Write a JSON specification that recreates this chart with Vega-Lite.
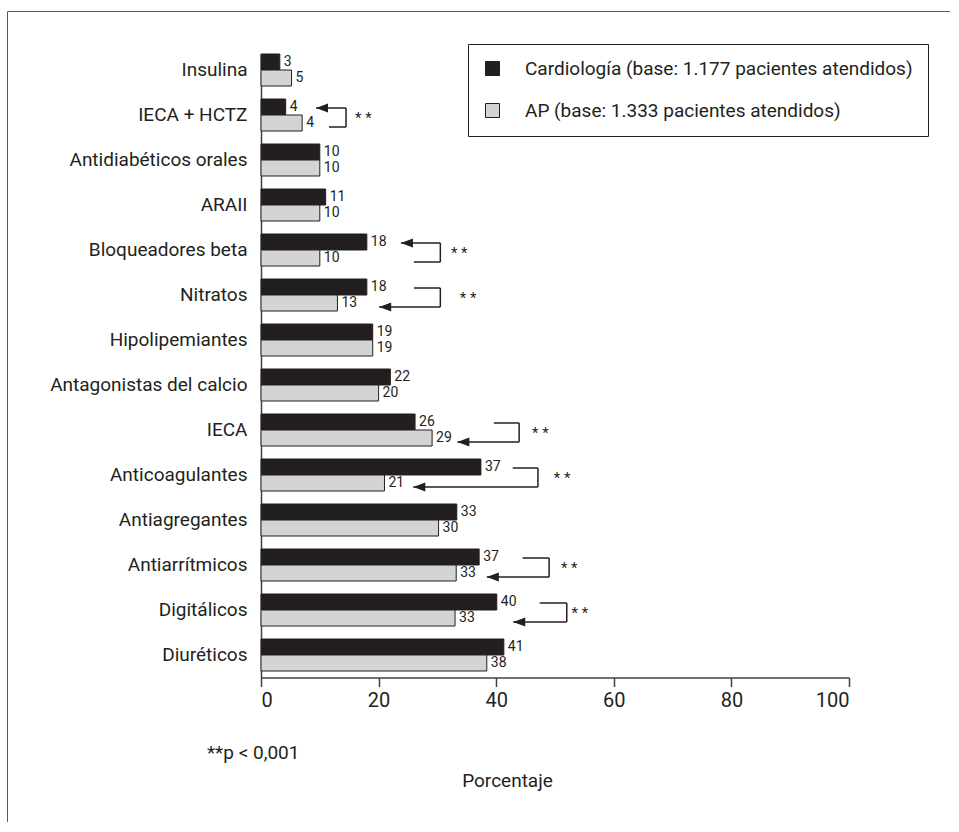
{
  "$schema": "https://vega.github.io/schema/vega-lite/v6.json",
  "autosize": "none",
  "padding": {"left": 7, "top": 11, "right": 0, "bottom": 0},
  "width": 943,
  "height": 811,
  "background": "white",
  "config": {
    "font": "Roboto",
    "view": {"stroke": "#58595b", "strokeWidth": 1},
    "text": {"color": "#231f20", "font": "Roboto"},
    "axis": {"labelColor": "#231f20", "titleColor": "#231f20", "labelFont": "Roboto", "titleFont": "Roboto"},
    "legend": {"labelColor": "#231f20", "labelFont": "Roboto"}
  },
  "datasets": {
    "barras": [
      {"cat": "Insulina", "serie": "Cardiología", "valor": 3.2, "etiqueta": "3"},
      {"cat": "Insulina", "serie": "AP", "valor": 5.2, "etiqueta": "5"},
      {"cat": "IECA + HCTZ", "serie": "Cardiología", "valor": 4.2, "etiqueta": "4"},
      {"cat": "IECA + HCTZ", "serie": "AP", "valor": 7.0, "etiqueta": "4"},
      {"cat": "Antidiabéticos orales", "serie": "Cardiología", "valor": 10, "etiqueta": "10"},
      {"cat": "Antidiabéticos orales", "serie": "AP", "valor": 10, "etiqueta": "10"},
      {"cat": "ARAII", "serie": "Cardiología", "valor": 11, "etiqueta": "11"},
      {"cat": "ARAII", "serie": "AP", "valor": 10, "etiqueta": "10"},
      {"cat": "Bloqueadores beta", "serie": "Cardiología", "valor": 18, "etiqueta": "18"},
      {"cat": "Bloqueadores beta", "serie": "AP", "valor": 10, "etiqueta": "10"},
      {"cat": "Nitratos", "serie": "Cardiología", "valor": 18, "etiqueta": "18"},
      {"cat": "Nitratos", "serie": "AP", "valor": 13, "etiqueta": "13"},
      {"cat": "Hipolipemiantes", "serie": "Cardiología", "valor": 19, "etiqueta": "19"},
      {"cat": "Hipolipemiantes", "serie": "AP", "valor": 19, "etiqueta": "19"},
      {"cat": "Antagonistas del calcio", "serie": "Cardiología", "valor": 22, "etiqueta": "22"},
      {"cat": "Antagonistas del calcio", "serie": "AP", "valor": 20, "etiqueta": "20"},
      {"cat": "IECA", "serie": "Cardiología", "valor": 26.2, "etiqueta": "26"},
      {"cat": "IECA", "serie": "AP", "valor": 29.1, "etiqueta": "29"},
      {"cat": "Anticoagulantes", "serie": "Cardiología", "valor": 37.4, "etiqueta": "37"},
      {"cat": "Anticoagulantes", "serie": "AP", "valor": 21, "etiqueta": "21"},
      {"cat": "Antiagregantes", "serie": "Cardiología", "valor": 33.3, "etiqueta": "33"},
      {"cat": "Antiagregantes", "serie": "AP", "valor": 30.2, "etiqueta": "30"},
      {"cat": "Antiarrítmicos", "serie": "Cardiología", "valor": 37.1, "etiqueta": "37"},
      {"cat": "Antiarrítmicos", "serie": "AP", "valor": 33.2, "etiqueta": "33"},
      {"cat": "Digitálicos", "serie": "Cardiología", "valor": 40.1, "etiqueta": "40"},
      {"cat": "Digitálicos", "serie": "AP", "valor": 33, "etiqueta": "33"},
      {"cat": "Diuréticos", "serie": "Cardiología", "valor": 41.3, "etiqueta": "41"},
      {"cat": "Diuréticos", "serie": "AP", "valor": 38.4, "etiqueta": "38"}
    ],
    "notas": [
      {"cat": "IECA + HCTZ", "arriba": 9.35, "abajo": 11.56, "corchete": 14.46, "estrellas": 16.0, "flecha": "arriba"},
      {"cat": "Bloqueadores beta", "arriba": 23.8, "abajo": 26.0, "corchete": 30.5, "estrellas": 32.3, "flecha": "arriba"},
      {"cat": "Nitratos", "arriba": 26.0, "abajo": 20.1, "corchete": 30.5, "estrellas": 33.8, "flecha": "abajo"},
      {"cat": "IECA", "arriba": 39.6, "abajo": 33.4, "corchete": 43.9, "estrellas": 46.1, "flecha": "abajo"},
      {"cat": "Anticoagulantes", "arriba": 42.8, "abajo": 25.9, "corchete": 47.1, "estrellas": 49.8, "flecha": "abajo"},
      {"cat": "Antiarrítmicos", "arriba": 44.5, "abajo": 38.4, "corchete": 49.0, "estrellas": 51.0, "flecha": "abajo"},
      {"cat": "Digitálicos", "arriba": 47.4, "abajo": 42.9, "corchete": 52.0, "estrellas": 52.8, "flecha": "abajo"}
    ],
    "pie": [
      {"cat": "Diuréticos", "posicion": -9.2, "nota": "**p < 0,001"}
    ]
  },
  "layer": [
    {
      "data": {"name": "barras"},
      "mark": {"type": "bar", "stroke": "#231f20", "strokeWidth": 1},
      "encoding": {
        "y": {
          "field": "cat",
          "type": "nominal",
          "sort": null,
          "scale": {
            "domain": ["Insulina", "IECA + HCTZ", "Antidiabéticos orales", "ARAII", "Bloqueadores beta", "Nitratos", "Hipolipemiantes", "Antagonistas del calcio", "IECA", "Anticoagulantes", "Antiagregantes", "Antiarrítmicos", "Digitálicos", "Diuréticos"],
            "range": [43, 666.5],
            "paddingInner": 0.28889,
            "paddingOuter": 0.0722,
            "align": 0
          },
          "axis": {"orient": "left", "offset": -254, "domain": true, "domainColor": "#414042", "domainWidth": 1.5, "ticks": false, "grid": false, "labelFontSize": 19, "labelPadding": 14, "labelLimit": 400, "title": null}
        },
        "x": {
          "field": "valor",
          "type": "quantitative",
          "stack": null,
          "scale": {"domain": [0, 100], "range": [254, 842], "nice": false},
          "axis": {
            "orient": "bottom", "offset": -144.5, "values": [0, 20, 40, 60, 80, 100], "domain": true, "domainColor": "#414042", "domainWidth": 1.5, "grid": false,
            "tickSize": 9, "tickColor": "#414042", "tickWidth": 1.5, "labelFontSize": 20, "labelPadding": 4,
            "title": "Porcentaje", "titleFontSize": 19, "titleFontWeight": "normal", "titleX": 500, "titleY": 103,
            "titleBaseline": "middle", "titleAlign": "center"
          }
        },
        "yOffset": {"field": "serie", "type": "nominal", "scale": {"domain": ["Cardiología", "AP"]}},
        "fill": {
          "field": "serie", "type": "nominal",
          "scale": {"domain": ["Cardiología", "AP"], "range": ["#231f20", "#d4d4d4"]},
          "legend": {
            "orient": "none", "legendX": 461, "legendY": 33, "title": null,
            "strokeColor": "#231f20", "padding": 15,
            "symbolType": "square", "symbolSize": 196, "symbolStrokeColor": "#231f20", "symbolStrokeWidth": 1,
            "labelFontSize": 19, "labelOffset": 23, "rowPadding": 22, "labelLimit": 600,
            "labelExpr": "datum.label == 'Cardiología' ? 'Cardiología (base: 1.177 pacientes atendidos)' : 'AP (base: 1.333 pacientes atendidos)'"
          }
        }
      }
    },
    {
      "data": {"name": "barras"},
      "mark": {"type": "text", "align": "left", "baseline": "middle", "dx": 4, "fontSize": 14, "color": "#231f20"},
      "encoding": {
        "y": {"field": "cat", "type": "nominal", "sort": null},
        "x": {"field": "valor", "type": "quantitative"},
        "yOffset": {"field": "serie", "type": "nominal", "scale": {"domain": ["Cardiología", "AP"]}},
        "text": {"field": "etiqueta"}
      }
    },
    {
      "data": {"name": "notas"},
      "mark": {"type": "rule", "color": "#231f20", "strokeWidth": 1.5, "yOffset": -7},
      "encoding": {
        "y": {"field": "cat", "type": "nominal", "sort": null},
        "x": {"field": "arriba", "type": "quantitative"},
        "x2": {"field": "corchete"}
      }
    },
    {
      "data": {"name": "notas"},
      "mark": {"type": "rule", "color": "#231f20", "strokeWidth": 1.5, "yOffset": 12},
      "encoding": {
        "y": {"field": "cat", "type": "nominal", "sort": null},
        "x": {"field": "abajo", "type": "quantitative"},
        "x2": {"field": "corchete"}
      }
    },
    {
      "data": {"name": "notas"},
      "mark": {"type": "rule", "color": "#231f20", "strokeWidth": 1.5, "yOffset": -7, "y2Offset": 12},
      "encoding": {
        "x": {"field": "corchete", "type": "quantitative"},
        "y": {"field": "cat", "type": "nominal", "sort": null},
        "y2": {"field": "cat"}
      }
    },
    {
      "data": {"name": "notas"},
      "transform": [{"filter": "datum.flecha == 'arriba'"}],
      "mark": {"type": "point", "shape": "M0,0L2,-0.75L2,0.75Z", "filled": true, "color": "#231f20", "opacity": 1, "size": 144, "yOffset": -7},
      "encoding": {
        "y": {"field": "cat", "type": "nominal", "sort": null},
        "x": {"field": "arriba", "type": "quantitative"}
      }
    },
    {
      "data": {"name": "notas"},
      "transform": [{"filter": "datum.flecha == 'abajo'"}],
      "mark": {"type": "point", "shape": "M0,0L2,-0.75L2,0.75Z", "filled": true, "color": "#231f20", "opacity": 1, "size": 144, "yOffset": 12},
      "encoding": {
        "y": {"field": "cat", "type": "nominal", "sort": null},
        "x": {"field": "abajo", "type": "quantitative"}
      }
    },
    {
      "data": {"name": "notas"},
      "mark": {"type": "text", "text": "* *", "align": "left", "baseline": "middle", "fontSize": 15, "yOffset": 3, "color": "#231f20"},
      "encoding": {
        "y": {"field": "cat", "type": "nominal", "sort": null},
        "x": {"field": "estrellas", "type": "quantitative"}
      }
    },
    {
      "data": {"name": "pie"},
      "mark": {"type": "text", "align": "left", "baseline": "middle", "fontSize": 19, "yOffset": 98, "color": "#231f20"},
      "encoding": {
        "x": {"field": "posicion", "type": "quantitative"},
        "y": {"field": "cat", "type": "nominal", "sort": null},
        "text": {"field": "nota"}
      }
    }
  ]
}
